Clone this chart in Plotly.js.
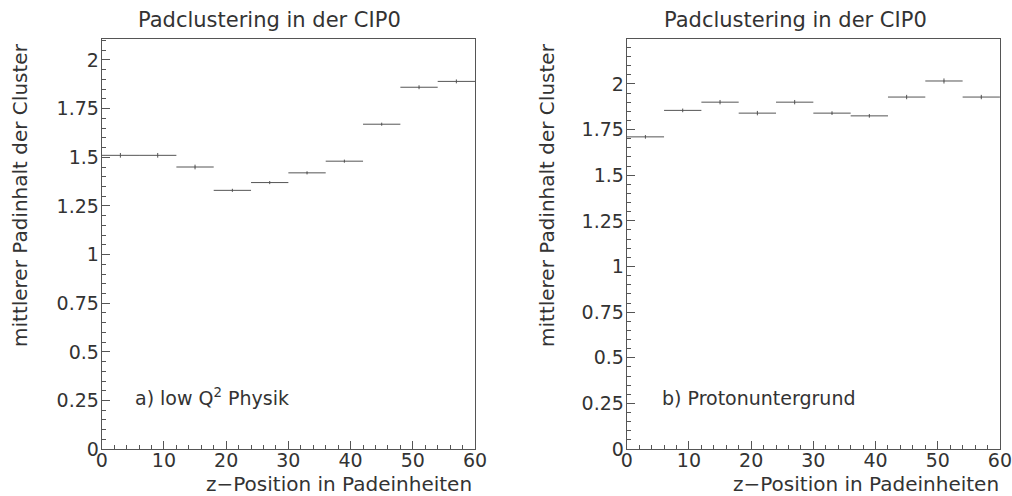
<!DOCTYPE html>
<html>
<head>
<meta charset="utf-8">
<script src="https://cdn.plot.ly/plotly-3.0.1.min.js"></script>
<style>html,body{margin:0;padding:0;background:#fff;}#chart{width:1012px;height:496px;}</style>
</head>
<body>
<div id="chart"></div>
<script>
// bin centres (z-Position in Padeinheiten), bin width 6
const binCenters = [3, 9, 15, 21, 27, 33, 39, 45, 51, 57];
const binHalfWidth = 3;
// a) low Q^2 Physik
const lowQ2Values = [1.51, 1.51, 1.45, 1.33, 1.37, 1.42, 1.48, 1.67, 1.86, 1.89];
const lowQ2Errors = [0.012, 0.012, 0.012, 0.008, 0.008, 0.008, 0.008, 0.008, 0.01, 0.01];
// b) Protonuntergrund
const protonValues = [1.71, 1.855, 1.90, 1.84, 1.90, 1.84, 1.825, 1.928, 2.016, 1.928];
const protonErrors = [0.01, 0.01, 0.012, 0.012, 0.012, 0.01, 0.01, 0.012, 0.014, 0.012];

const titleText = "Padclustering in der CIP0";
const yTitleText = "mittlerer Padinhalt der Cluster";
const xTitleText = "z\u2212Position in Padeinheiten";
const labelA = "a) low Q<sup>2</sup> Physik";
const labelB = "b) Protonuntergrund";

const FONT = "DejaVu Sans, Liberation Sans, sans-serif";
const TXT = "#333";
const LINE = "#555";

function trace(vals, errs, xa, ya) {
  return {
    type: "scatter", mode: "markers",
    x: binCenters, y: vals, xaxis: xa, yaxis: ya,
    marker: {size: 1, color: LINE},
    error_x: {type: "constant", value: binHalfWidth, color: LINE, thickness: 1, width: 0},
    error_y: {type: "data", array: errs, color: LINE, thickness: 1, width: 0},
    showlegend: false, hoverinfo: "skip"
  };
}

function xaxisDef(domain, anchor) {
  return {
    domain: domain, anchor: anchor, range: [0, 60],
    tick0: 0, dtick: 10, ticks: "inside", ticklen: 8, tickcolor: LINE,
    minor: {dtick: 2, ticks: "inside", ticklen: 4, tickcolor: LINE},
    showline: true, linecolor: LINE, linewidth: 1, mirror: true,
    showgrid: false, zeroline: false, ticklabeloverflow: "allow",
    tickfont: {family: FONT, size: 19, color: TXT}, ticklabelstandoff: -6
  };
}
function yaxisDef(domain, anchor, top) {
  return {
    domain: domain, anchor: anchor, range: [0, top],
    tick0: 0, dtick: 0.25, ticks: "inside", ticklen: 8, tickcolor: LINE,
    minor: {dtick: 0.05, ticks: "inside", ticklen: 4, tickcolor: LINE},
    showline: true, linecolor: LINE, linewidth: 1, mirror: true,
    showgrid: false, zeroline: false,
    tickfont: {family: FONT, size: 19, color: TXT}, ticklabelstandoff: -2
  };
}

const yDom = [0.0945, 0.9214];
const layout = {
  width: 1012, height: 496,
  margin: {l: 0, r: 0, t: 0, b: 0},
  paper_bgcolor: "#fff", plot_bgcolor: "#fff",
  xaxis: xaxisDef([0.1005, 0.4694], "y"),
  yaxis: yaxisDef(yDom, "x", 2.108),
  xaxis2: xaxisDef([0.6193, 0.9881], "y2"),
  yaxis2: yaxisDef(yDom, "x2", 2.246),
  annotations: [
    {text: titleText, xref: "paper", yref: "paper", x: 269/1012, y: 1 - 20/496, xanchor: "center", yanchor: "middle", showarrow: false, font: {family: FONT, size: 21, color: TXT}},
    {text: titleText, xref: "paper", yref: "paper", x: 795/1012, y: 1 - 20/496, xanchor: "center", yanchor: "middle", showarrow: false, font: {family: FONT, size: 21, color: TXT}},
    {text: yTitleText, xref: "paper", yref: "paper", x: 20/1012, y: 1 - 195/496, textangle: -90, xanchor: "center", yanchor: "middle", showarrow: false, font: {family: FONT, size: 20, color: TXT}},
    {text: yTitleText, xref: "paper", yref: "paper", x: 547/1012, y: 1 - 195/496, textangle: -90, xanchor: "center", yanchor: "middle", showarrow: false, font: {family: FONT, size: 20, color: TXT}},
    {text: xTitleText, xref: "paper", yref: "paper", x: 474/1012, y: 1 - 484/496, xanchor: "right", yanchor: "middle", showarrow: false, font: {family: FONT, size: 20, color: TXT}},
    {text: xTitleText, xref: "paper", yref: "paper", x: 1001/1012, y: 1 - 484/496, xanchor: "right", yanchor: "middle", showarrow: false, font: {family: FONT, size: 20, color: TXT}},
    {text: labelA, xref: "x", yref: "y", x: 5, y: 0.27, xanchor: "left", yanchor: "middle", showarrow: false, font: {family: FONT, size: 19, color: TXT}},
    {text: labelB, xref: "x2", yref: "y2", x: 5.3, y: 0.28, xanchor: "left", yanchor: "middle", showarrow: false, font: {family: FONT, size: 19, color: TXT}}
  ]
};

Plotly.newPlot("chart", [
  trace(lowQ2Values, lowQ2Errors, "x", "y"),
  trace(protonValues, protonErrors, "x2", "y2")
], layout, {staticPlot: true, displayModeBar: false});
</script>
</body>
</html>
